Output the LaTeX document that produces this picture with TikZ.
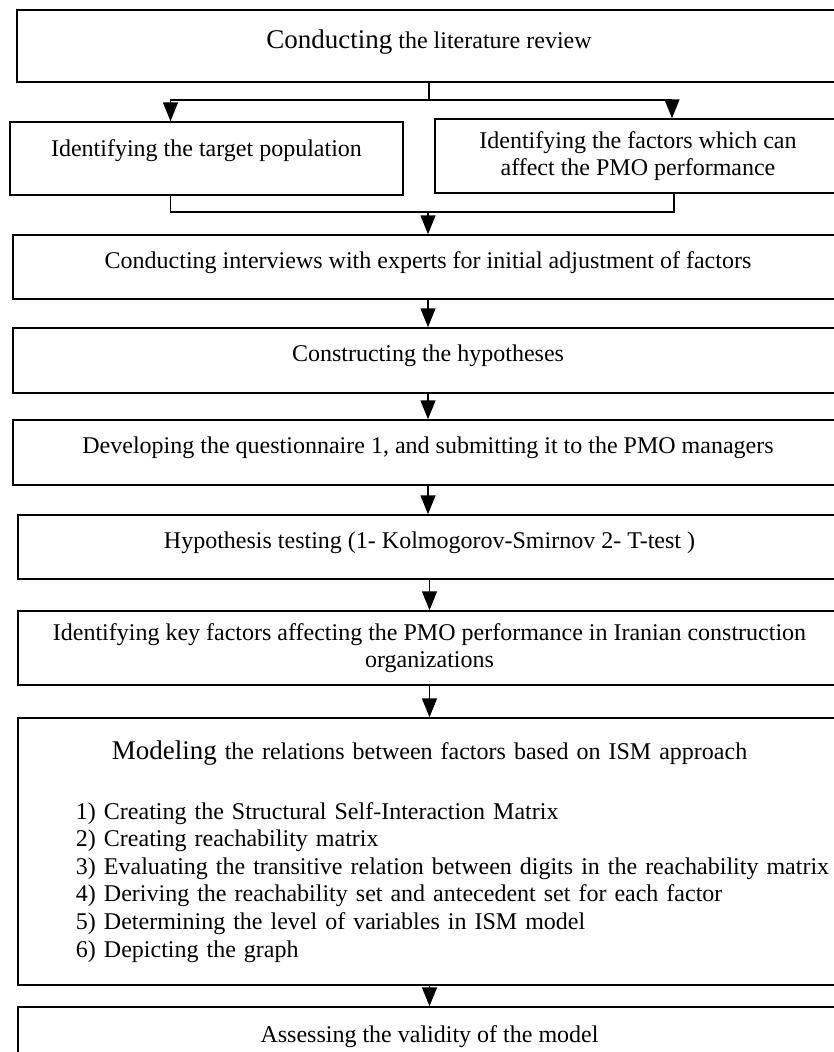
\documentclass[tikz,border=0pt]{standalone}
\usepackage{fontspec}
\setmainfont{Liberation Serif}
\usetikzlibrary{arrows.meta, positioning}

\begin{document}
\begin{tikzpicture}[
  x=1pt, y=-1pt,
  font=\fontsize{24}{27.6}\selectfont,
  box/.style={draw, line width=1.5pt, inner sep=0pt, align=center},
  wide/.style={box, minimum width=830pt},
  lift/.style={text depth=14pt},
  big/.style={font=\fontsize{27}{30}\selectfont},
  ark/.style={-{Triangle[width=15pt, length=19pt]}, line width=1.5pt},
  ln/.style={line width=1.5pt}
]
\clip (0,0) rectangle (834,1052);
\node[wide, minimum width=824pt, minimum height=72pt, lift] (lit) at (429,46)
  {{\fontsize{27}{30}\selectfont Conducting} the literature review};
\node[box, minimum width=393pt, minimum height=73pt, text depth=20pt] (pop) at (206.5,158.5)
  {Identifying the target population};
\node[box, minimum width=406pt, minimum height=74pt] (fac) at (638,156)
  {Identifying the factors which can\\affect the PMO performance};
\node[wide, minimum height=64pt, lift] (intv) at (428,267)
  {Conducting interviews with experts for initial adjustment of factors};
\node[wide, minimum height=65pt, lift] (hyp) at (428,360.5)
  {Constructing the hypotheses};
\node[wide, minimum height=65pt, lift] (qst) at (428,452.5)
  {Developing the questionnaire 1, and submitting it to the PMO managers};
\node[wide, minimum width=823pt, minimum height=64pt, lift] (test) at (429.5,547)
  {Hypothesis testing (1- Kolmogorov-Smirnov 2- T-test )};
\node[wide, minimum width=823pt, minimum height=74pt] (key) at (429.5,648)
  {Identifying key factors affecting the PMO performance in Iranian construction\\organizations};
\node[wide, minimum width=823pt, minimum height=267pt, text width=823pt, align=left] (ism) at (429.5,851.5)
  {\makebox[\linewidth]{{\fontsize{27}{30}\selectfont Modeling} the relations between factors based on ISM approach}\\[32pt]
   \hspace*{58pt}1) Creating the Structural Self-Interaction Matrix\\
   \hspace*{58pt}2) Creating reachability matrix\\
   \hspace*{58pt}3) Evaluating the transitive relation between digits in the reachability matrix\\
   \hspace*{58pt}4) Deriving the reachability set and antecedent set for each factor\\
   \hspace*{58pt}5) Determining the level of variables in ISM model\\
   \hspace*{58pt}6) Depicting the graph};
\node[wide, minimum width=823pt, minimum height=68pt, lift] (val) at (429.5,1041)
  {Assessing the validity of the model};
\coordinate (br) at ([yshift=-17pt]lit.south);
\coordinate (jn) at (428,212);
\draw[ln] (lit.south) -- (br);
\draw[ark] (br) -| ([xshift=-36pt]pop.north);
\draw[ark] (br) -| ([xshift=34pt]fac.north);
\draw[ln] ([xshift=-36pt]pop.south) |- (jn) -| ([xshift=36pt]fac.south);
\draw[ark] (jn) -- (intv.north);
\draw[ark] (intv.south) -- (hyp.north);
\draw[ark] (hyp.south) -- (qst.north);
\draw[ark] (qst.south) -- (qst.south |- test.north);
\draw[ark] (test.south) -- (key.north);
\draw[ark] (key.south) -- (ism.north);
\draw[ark] (ism.south) -- (val.north);
\end{tikzpicture}
\end{document}
